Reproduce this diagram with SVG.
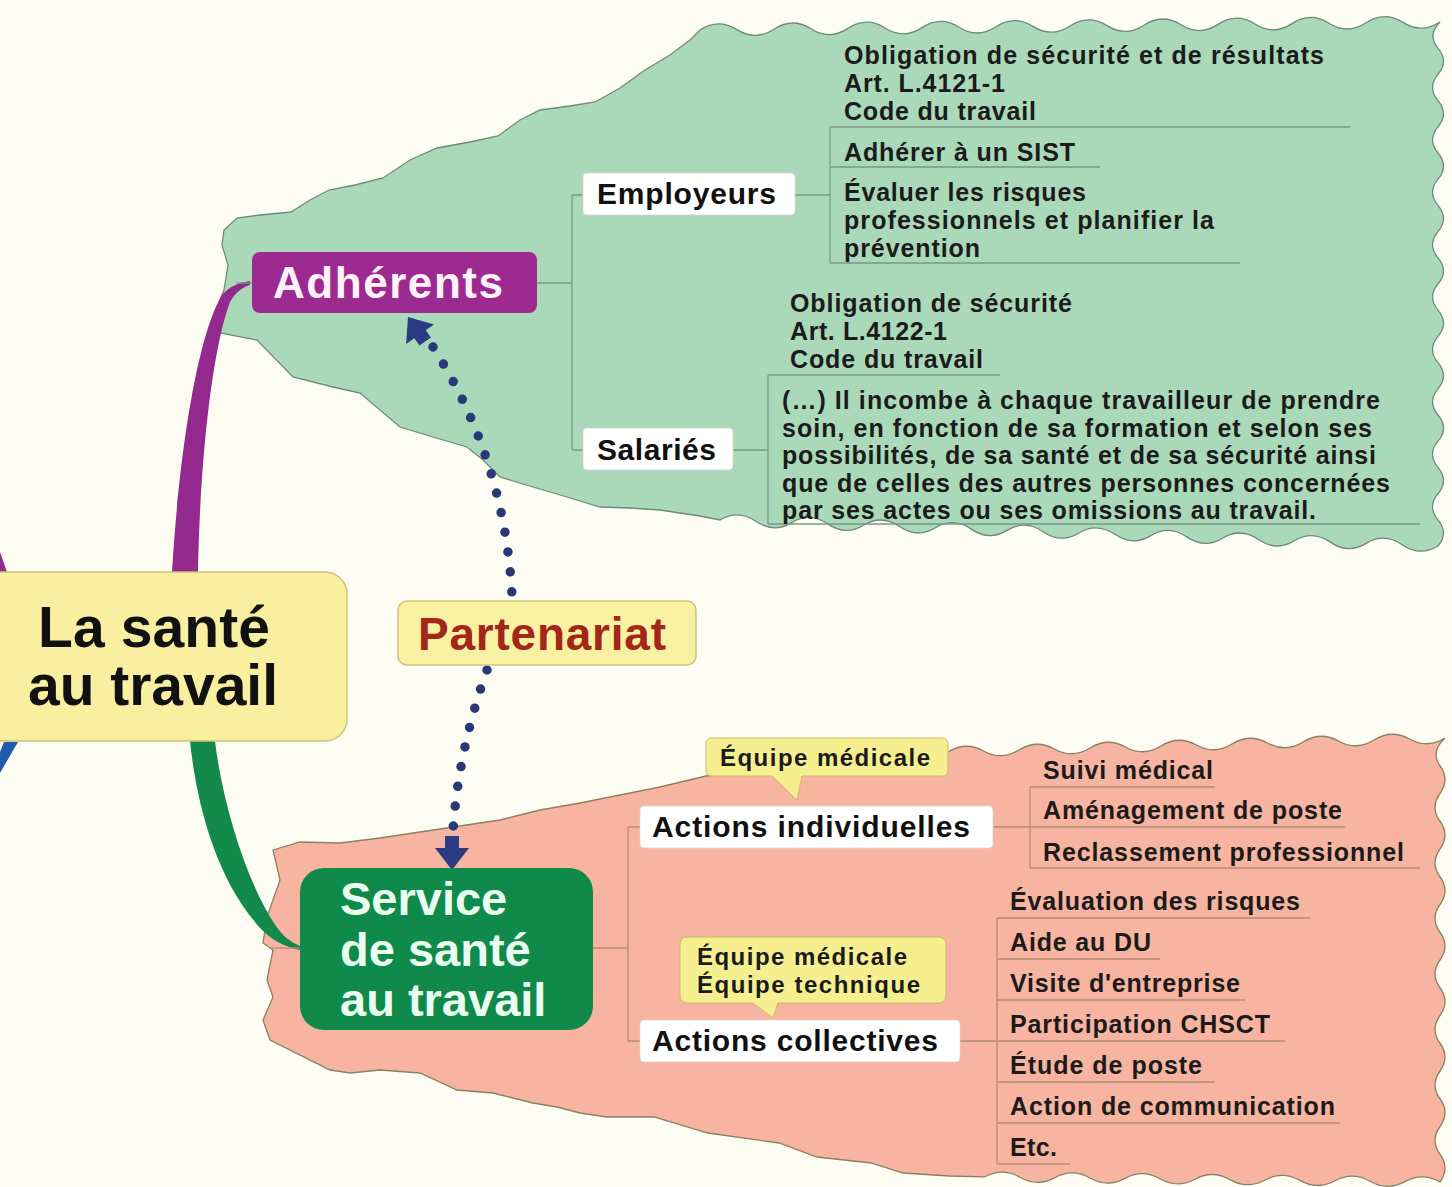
<svg xmlns="http://www.w3.org/2000/svg" width="1452" height="1187" viewBox="0 0 1452 1187">
<defs>
<style>
text{font-family:"Liberation Sans",Arial,Helvetica,sans-serif;font-weight:bold;}
.t{font-size:25px;fill:#1b1b1b;}
.lab{font-size:30px;fill:#111;}
.cal{font-size:24px;fill:#1b1b1b;}
.lg{stroke:#7b9885;stroke-width:1.3;fill:none;}
.lp{stroke:#b68a78;stroke-width:1.3;fill:none;}
.box{fill:#ffffff;stroke:#d6d6d6;stroke-width:0.8;}
.callout{fill:#f6ef90;stroke:#c9b96a;stroke-width:1;}
.dots{fill:none;stroke:#283878;stroke-width:9.5;stroke-linecap:round;stroke-dasharray:0 20;}
.arrow{fill:#2b3c84;}
</style>
</defs>
<rect x="0" y="0" width="1452" height="1187" fill="#fdfdf3"/>

<g id="cloud-adherents">
<path fill="#aad9b9" stroke="#6f8a78" stroke-width="1.3" d="M700,30 Q718.5,17.8 737,29.6 T774,29.2 T811,28.8 T848,28.4 T885,28 T922,27.6 T959,27.2 T996,26.8 T1033,26.4 T1070,26 T1107,25.6 T1144,25.2 T1181,24.8 T1218,24.4 T1255,24 T1292,23.6 T1329,23.2 T1366,22.8 T1403,22.4 T1440,22 Q1427,35 1438,48.2 T1438,74.4 T1438,100.6 T1438,126.8 T1438,153 T1438,179.2 T1438,205.4 T1438,231.6 T1438,257.8 T1438,284 T1438,310.2 T1438,336.4 T1438,362.6 T1438,388.8 T1438,415 T1438,441.2 T1438,467.4 T1438,493.6 T1438,519.8 T1438,546 Q1420,557 1402.1,544.7 T1366.2,543.4 T1330.3,542.1 T1294.4,540.8 T1258.5,539.5 T1222.6,538.2 T1186.7,536.9 T1150.8,535.6 T1114.9,534.3 T1079,533 T1043.1,531.7 T1007.2,530.4 T971.3,529.1 T935.4,527.8 T899.5,526.5 T863.6,525.2 T827.7,523.9 T791.8,522.6 T755.9,521.3 T720,520 L700,516 L660,510 L630,508 L600,507 L567,497 L533,487 L500,477 L483,460 L467,447 L433,437 L400,427 L360,393 L333,387 L293,377 L257,340 L220,333 L216,310 L224,290 L228,265 L222,245 L224,230 L237,218 L260,215 L291,212 L310,200 L329,190 L355,185 L383,178 L410,160 L437,148 L470,142 L498,136 L520,120 L540,110 L570,106 L595,102 L620,88 L645,70 L670,55 L690,40 Z"/>
</g>

<g id="cloud-service">
<path fill="#f7b4a0" stroke="#8a8064" stroke-width="1.3" d="M273,850 L300,842 L340,843 L380,838 L420,832 L460,826 L500,820 L540,810 L580,803 L620,795 L660,787 L706,776 L800,766 L948,752 Q965.75,741 983.5,751 T1019,750 T1054.5,749 T1090,748 T1125.5,747 T1161,746 T1196.5,745 T1232,744 T1267.5,743 T1303,742 T1338.5,741 T1374,740 T1409.5,739 T1445,738 Q1430,752 1440,765.75 T1440,793.5 T1440,821.25 T1440,849 T1440,876.75 T1440,904.5 T1440,932.25 T1440,960 T1440,987.75 T1440,1015.5 T1440,1043.25 T1440,1071 T1440,1098.75 T1440,1126.5 T1440,1154.25 T1440,1182 Q1422.5,1172 1405,1181.6 T1370,1181.2 T1335,1180.8 T1300,1180.4 T1265,1180 T1230,1179.6 T1195,1179.2 T1160,1178.8 T1125,1178.4 T1090,1178 T1055,1177.6 T1020,1177.2 T985,1176.8 L950,1176 L903,1173 L871,1163 L817,1157 L779,1143 L708,1133 L654,1117 L607,1117 L580,1113 L557,1107 L533,1103 L493,1093 L457,1090 L420,1073 L380,1070 L350,1073 L330,1070 L270,1040 L263,1020 L273,997 L267,980 L273,950 L263,943 L267,917 L280,880 Z"/>
</g>

<g id="connectors">
<path fill="#952a8e" d="M172,572 C178,470 195,340 222,295 C228,288 236,283 250,281 L250,285 C240,288 234,295 230,302 C212,350 200,460 198,572 Z"/>
<path fill="#138a4c" d="M190,741 C196,800 215,880 262,930 C272,940 285,947 300,950 L300,946 C290,942 282,935 276,926 C245,880 222,800 215,741 Z"/>
<path fill="#952a8e" d="M0,552 L7,572 L0,572 Z"/>
<path fill="#1f5cb0" d="M4,742 L18,742 L0,773 L0,752 Z"/>
<line class="lg" x1="236" y1="283" x2="252" y2="283"/>
<line class="lp" x1="270" y1="948" x2="300" y2="948"/>
<path class="lg" d="M537,283 H572 M572,195 V450 M572,195 H583 M572,450 H583"/>
<path class="lg" d="M795,195 H830 M830,127 V263 M830,127 H1350 M830,167 H1100 M830,263 H1240"/>
<path class="lg" d="M733,450 H768 M768,375 V524 M768,375 H1000 M768,524 H1420"/>
<path class="lp" d="M593,948 H628 M628,827 V1041 M628,827 H640 M628,1041 H640"/>
<path class="lp" d="M993,827 H1030 M1030,787 V868 M1030,787 H1215 M1030,827 H1345 M1030,868 H1420"/>
<path class="lp" d="M960,1041 H997 M997,918 V1164 M997,918 H1310 M997,959 H1160 M997,1000 H1245 M997,1041 H1285 M997,1082 H1215 M997,1123 H1340 M997,1164 H1070"/>
<path class="dots" d="M433,347 Q505,460 512,596"/>
<path class="dots" d="M487,670 Q455,760 452,850"/>
<polygon class="arrow" transform="translate(408,317) rotate(145)" points="0,0 -17,-21 -7,-21 -7,-30 7,-30 7,-21 17,-21"/>
<polygon class="arrow" points="445,836 459,836 459,848 469,848 452,870 435,848 445,848"/>
</g>

<g id="node-root">
<rect x="-30" y="572" width="377" height="169" rx="22" fill="#f8f0a0" stroke="#cfc07a" stroke-width="1.5"/>
<text x="38" y="647" font-size="57" fill="#111" textLength="232" lengthAdjust="spacing">La santé</text>
<text x="28" y="705" font-size="57" fill="#111" textLength="250" lengthAdjust="spacing">au travail</text>
</g>

<g id="node-adherents">
<rect x="252" y="252" width="285" height="61" rx="8" fill="#9c2a90"/>
<text x="273" y="298" font-size="44" fill="#fff2fb" textLength="230" lengthAdjust="spacing">Adhérents</text>
</g>

<g id="node-employeurs">
<rect class="box" x="583" y="173" width="212" height="42" rx="4"/>
<text class="lab" x="597" y="204" textLength="179" lengthAdjust="spacing">Employeurs</text>
</g>
<g id="node-emp-1">
<text class="t" x="844" y="64" textLength="480" lengthAdjust="spacing">Obligation de sécurité et de résultats</text>
<text class="t" x="844" y="92" textLength="161" lengthAdjust="spacing">Art. L.4121-1</text>
<text class="t" x="844" y="120" textLength="192" lengthAdjust="spacing">Code du travail</text>
</g>
<g id="node-emp-2">
<text class="t" x="844" y="161" textLength="231" lengthAdjust="spacing">Adhérer à un SIST</text>
</g>
<g id="node-emp-3">
<text class="t" x="844" y="201" textLength="242" lengthAdjust="spacing">Évaluer les risques</text>
<text class="t" x="844" y="229" textLength="370" lengthAdjust="spacing">professionnels et planifier la</text>
<text class="t" x="844" y="257" textLength="136" lengthAdjust="spacing">prévention</text>
</g>

<g id="node-salaries">
<rect class="box" x="583" y="428" width="150" height="42" rx="4"/>
<text class="lab" x="597" y="460" textLength="119" lengthAdjust="spacing">Salariés</text>
</g>
<g id="node-sal-1">
<text class="t" x="790" y="312" textLength="282" lengthAdjust="spacing">Obligation de sécurité</text>
<text class="t" x="790" y="340" textLength="157" lengthAdjust="spacing">Art. L.4122-1</text>
<text class="t" x="790" y="368" textLength="193" lengthAdjust="spacing">Code du travail</text>
</g>
<g id="node-sal-2">
<text class="t" x="782" y="409" textLength="598" lengthAdjust="spacing">(…) Il incombe à chaque travailleur de prendre</text>
<text class="t" x="782" y="437" textLength="590" lengthAdjust="spacing">soin, en fonction de sa formation et selon ses</text>
<text class="t" x="782" y="464" textLength="594" lengthAdjust="spacing">possibilités, de sa santé et de sa sécurité ainsi</text>
<text class="t" x="782" y="492" textLength="608" lengthAdjust="spacing">que de celles des autres personnes concernées</text>
<text class="t" x="782" y="519" textLength="534" lengthAdjust="spacing">par ses actes ou ses omissions au travail.</text>
</g>

<g id="node-partenariat">
<rect x="398" y="601" width="298" height="64" rx="9" fill="#f9f1a2" stroke="#d4c27a" stroke-width="1.5"/>
<text x="418" y="650" font-size="46" fill="#a3261a" textLength="248" lengthAdjust="spacing">Partenariat</text>
</g>

<g id="node-service">
<rect x="300" y="868" width="293" height="162" rx="24" fill="#0f8a4b"/>
<text x="340" y="915" font-size="47" fill="#eafff2">Service</text>
<text x="340" y="966" font-size="47" fill="#eafff2">de santé</text>
<text x="340" y="1016" font-size="47" fill="#eafff2">au travail</text>
</g>

<g id="node-callout-1">
<path class="callout" d="M712,738 H942 Q948,738 948,744 V770 Q948,776 942,776 H802 L797,800 L772,776 H712 Q706,776 706,770 V744 Q706,738 712,738 Z"/>
<text class="cal" x="720" y="766" textLength="210" lengthAdjust="spacing">Équipe médicale</text>
</g>

<g id="node-individuelles">
<rect class="box" x="640" y="806" width="353" height="42" rx="4"/>
<text class="lab" x="652" y="837" textLength="318" lengthAdjust="spacing">Actions individuelles</text>
</g>
<g id="node-ind-items">
<text class="t" x="1043" y="779" textLength="170" lengthAdjust="spacing">Suivi médical</text>
<text class="t" x="1043" y="819" textLength="299" lengthAdjust="spacing">Aménagement de poste</text>
<text class="t" x="1043" y="861" textLength="361" lengthAdjust="spacing">Reclassement professionnel</text>
</g>

<g id="node-callout-2">
<path class="callout" d="M688,937 H938 Q946,937 946,945 V995 Q946,1003 938,1003 H778 L773,1018 L753,1003 H688 Q680,1003 680,995 V945 Q680,937 688,937 Z"/>
<text class="cal" x="697" y="965" textLength="210" lengthAdjust="spacing">Équipe médicale</text>
<text class="cal" x="697" y="993" textLength="223" lengthAdjust="spacing">Équipe technique</text>
</g>

<g id="node-collectives">
<rect class="box" x="640" y="1020" width="320" height="42" rx="4"/>
<text class="lab" x="652" y="1051" textLength="286" lengthAdjust="spacing">Actions collectives</text>
</g>
<g id="node-col-items">
<text class="t" x="1010" y="910" textLength="290" lengthAdjust="spacing">Évaluation des risques</text>
<text class="t" x="1010" y="951" textLength="141" lengthAdjust="spacing">Aide au DU</text>
<text class="t" x="1010" y="992" textLength="230" lengthAdjust="spacing">Visite d'entreprise</text>
<text class="t" x="1010" y="1033" textLength="260" lengthAdjust="spacing">Participation CHSCT</text>
<text class="t" x="1010" y="1074" textLength="192" lengthAdjust="spacing">Étude de poste</text>
<text class="t" x="1010" y="1115" textLength="325" lengthAdjust="spacing">Action de communication</text>
<text class="t" x="1010" y="1156" textLength="47" lengthAdjust="spacing">Etc.</text>
</g>
</svg>
